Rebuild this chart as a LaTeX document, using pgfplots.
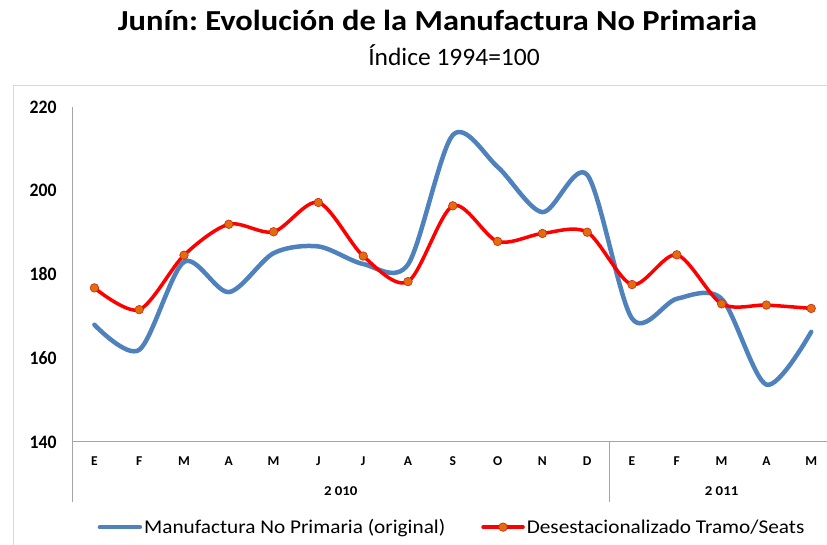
\documentclass[border=0pt]{standalone}
\usepackage{pgfplots}
\pgfplotsset{compat=1.18}
\usepackage{fontspec}
\setmainfont{Carlito}
\frenchspacing
\definecolor{serieblue}{RGB}{79,129,189}
\definecolor{markfill}{RGB}{228,108,10}
\definecolor{markdraw}{RGB}{200,40,30}
\definecolor{framegray}{RGB}{217,217,217}
\definecolor{axisgray}{RGB}{165,165,165}
\newcommand\xs[2][1]{\scalebox{#1}[1]{#2}}

\begin{document}
\begin{tikzpicture}[x=1pt,y=1pt]
\path[use as bounding box] (0,0) rectangle (827,545);
\clip (0,0) rectangle (827,545);
\draw[framegray, line width=1pt] (13,-5) -- (13,459) -- (840,459);
\node[anchor=base, inner sep=0pt, font=\bfseries\fontsize{29}{33}\selectfont] at (437.5,514) {\xs[1.12]{Junín: Evolución de la Manufactura No Primaria}};
\node[anchor=base, inner sep=0pt, font=\fontsize{25}{29}\selectfont] at (454,479) {\xs[1.02]{Índice 1994=100}};

\begin{axis}[
  at={(72pt,103pt)}, anchor=south west, scale only axis,
  width=761.6pt, height=335pt,
  xmin=-0.5, xmax=16.5, ymin=140, ymax=220,
  axis x line*=bottom, axis y line*=left,
  axis line style={axisgray, line width=1pt, -},
  ytick={140,160,...,220},
  xtick={0,...,16},
  xticklabels={E,F,M,A,M,J,J,A,S,O,N,D,E,F,M,A,M},
  major tick length=0pt,
  /pgf/number format/assume math mode=true,
  yticklabel={\xs[0.93]{\pgfmathprintnumber{\tick}}},
  yticklabel style={font=\bfseries\fontsize{19}{22}\selectfont, xshift=-12pt},
  xticklabel style={font=\bfseries\fontsize{13.5}{15}\selectfont, yshift=-11pt},
  clip=false,
  legend style={at={(0.499,-0.254)}, anchor=center, draw=none, fill=none,
    legend columns=2, font=\fontsize{19.5}{23}\selectfont,
    nodes={inner sep=2pt},
    /tikz/every even column/.append style={column sep=34pt}},
  legend cell align=left,
  legend image code/.code={\draw[#1,mark repeat=2,mark phase=2] plot coordinates {(0pt,0pt) (20pt,0pt) (40pt,0pt)};},
]
\addplot[serieblue, line width=4.5pt, smooth, line cap=round, line join=round] coordinates {
(0,168.0) (1,162.0) (2,183.0) (3,175.8) (4,185.1) (5,186.7) (6,182.5) (7,182.4)
(8,213.3) (9,205.7) (10,194.9) (11,203.8) (12,169.5) (13,174.2) (14,174.2) (15,153.7) (16,166.3)};
\addlegendentry{\xs[1.09]{Manufactura No Primaria (original)}}
\addplot[red, line width=3.5pt, smooth, line cap=round, line join=round,
  mark=*, mark size=4.3pt, mark options={fill=markfill, draw=markdraw, line width=0.6pt}] coordinates {
(0,176.8) (1,171.6) (2,184.6) (3,192.0) (4,190.2) (5,197.2) (6,184.4) (7,178.3)
(8,196.4) (9,187.9) (10,189.8) (11,190.1) (12,177.6) (13,184.7) (14,173.0) (15,172.7) (16,171.9)};
\addlegendentry{\xs[1.09]{Desestacionalizado Tramo/Seats}}
\draw[axisgray, line width=1pt] (axis cs:-0.5,140) -- ++(0pt,-60pt);
\draw[axisgray, line width=1pt] (axis cs:11.5,140) -- ++(0pt,-60pt);
\node[font=\bfseries\fontsize{13.5}{15}\selectfont] at ([yshift=-49.5pt]axis cs:5.5,140) {\xs[1.1]{2\hspace{3pt}010}};
\node[font=\bfseries\fontsize{13.5}{15}\selectfont] at ([yshift=-49.5pt]axis cs:14,140) {\xs[1.1]{2\hspace{3pt}011}};
\end{axis}
\end{tikzpicture}
\end{document}
